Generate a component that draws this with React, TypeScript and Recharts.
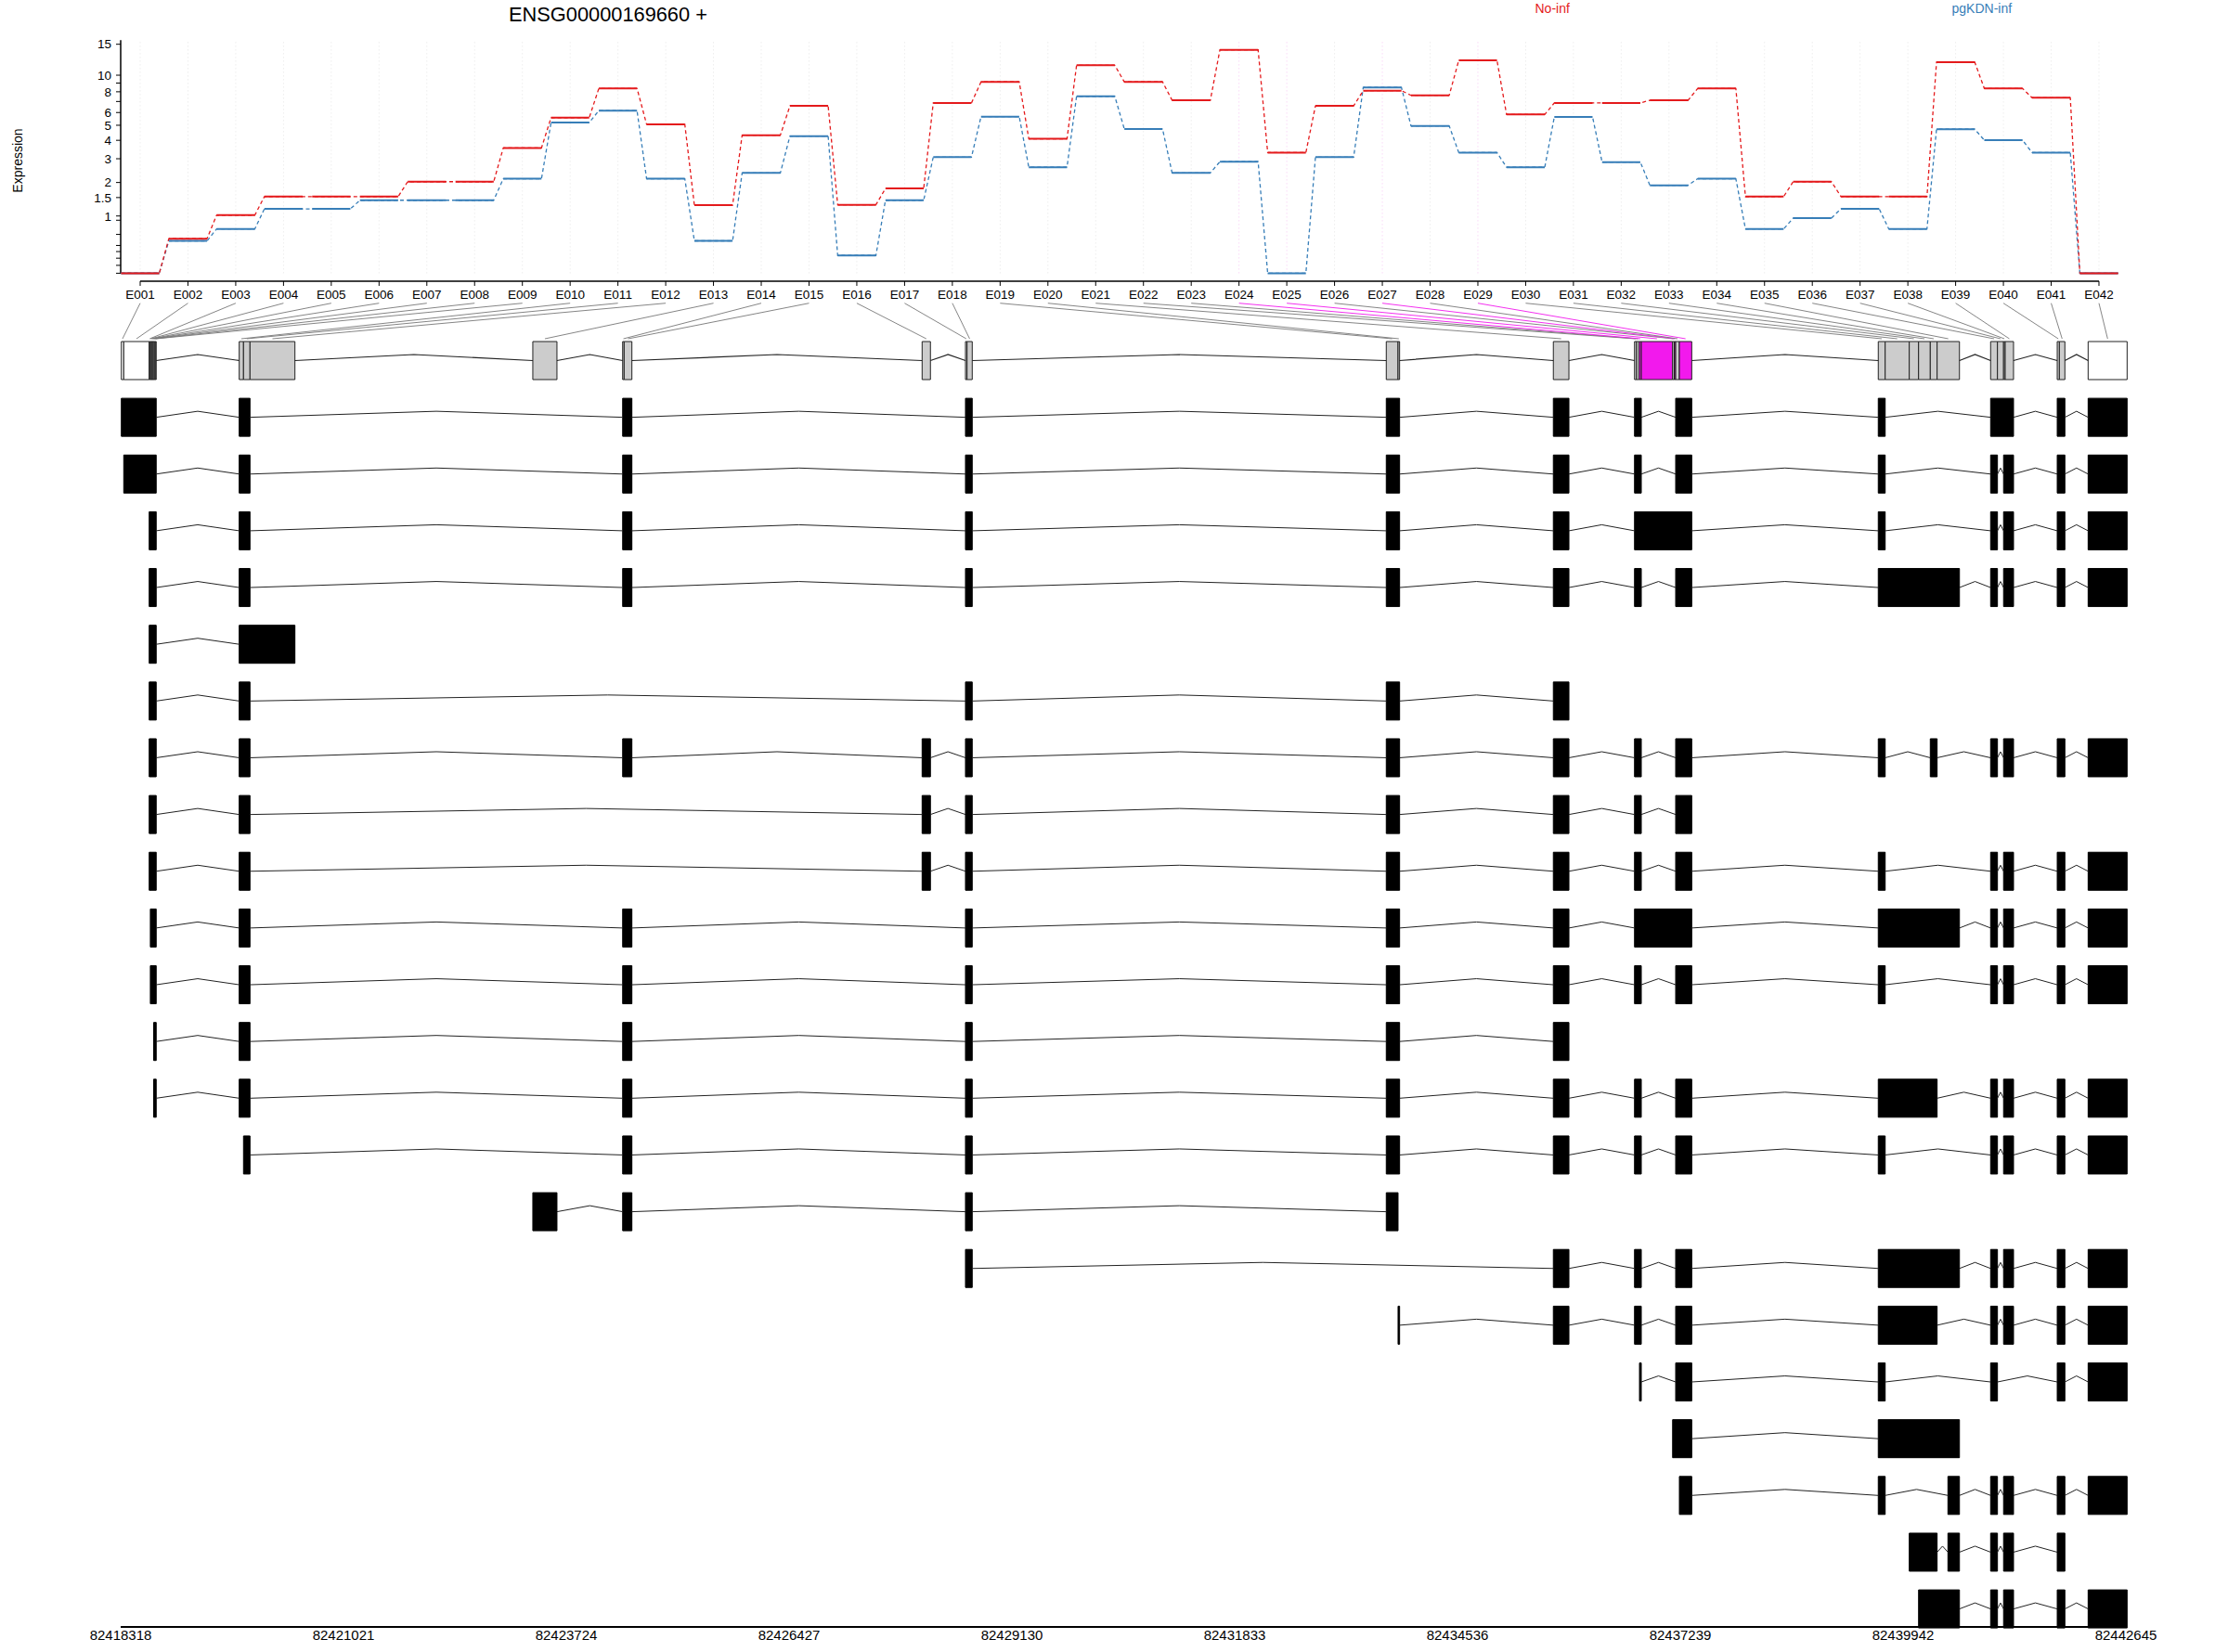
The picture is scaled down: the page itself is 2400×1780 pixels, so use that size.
import React from 'react';
import {
  LineChart,
  ComposedChart,
  Line,
  XAxis,
  YAxis,
  ReferenceLine,
  ReferenceArea,
  Customized,
} from 'recharts';

const FONT = '"Liberation Sans", Arial, Helvetica, sans-serif';

// ---------------- DATA ----------------
const exonIds = [
  'E001', 'E002', 'E003', 'E004', 'E005', 'E006', 'E007', 'E008', 'E009', 'E010',
  'E011', 'E012', 'E013', 'E014', 'E015', 'E016', 'E017', 'E018', 'E019', 'E020',
  'E021', 'E022', 'E023', 'E024', 'E025', 'E026', 'E027', 'E028', 'E029', 'E030',
  'E031', 'E032', 'E033', 'E034', 'E035', 'E036', 'E037', 'E038', 'E039', 'E040',
  'E041', 'E042',
];

const noInf = [
  0, 0.52, 1.02, 1.53, 1.53, 1.53, 2.03, 2.03, 3.56, 5.58,
  8.37, 5.07, 1.28, 4.32, 6.59, 1.29, 1.79, 6.86, 9.14, 4.09,
  11.4, 9.14, 7.12, 13.96, 3.31, 6.59, 8.12, 7.62, 12.17, 5.84,
  6.86, 6.86, 7.12, 8.37, 1.53, 2.03, 1.53, 1.53, 11.88, 8.37,
  7.37, 0,
];

const pgKDN = [
  0, 0.48, 0.71, 1.18, 1.18, 1.42, 1.42, 1.42, 2.14, 5.2,
  6.16, 2.14, 0.48, 2.37, 4.26, 0.24, 1.42, 3.08, 5.66, 2.61,
  7.52, 4.73, 2.37, 2.86, 0, 3.08, 8.48, 4.95, 3.31, 2.61,
  5.64, 2.84, 1.9, 2.14, 0.71, 0.95, 1.18, 0.71, 4.72, 4.01,
  3.31, 0,
];

const yTickValues = [0, 0.1, 0.2, 0.3, 0.4, 0.6, 0.9, 1, 1.5, 2, 3, 4, 5, 6, 7, 8, 9, 10, 15];
const yTickLabels = ['', '', '', '', '', '', '', '1', '1.5', '2', '3', '4', '5', '6', '', '8', '', '10', '15'];

// gene model exonic parts (genomic start / end)
const exonStart = [
  82418326, 82418355, 82418664, 82418676, 82418689, 82418701, 82418713, 82418726, 82418738, 82419756,
  82419808, 82419887, 82423318, 82424408, 82424426, 82428041, 82428567, 82428586, 82433672, 82433815,
  82435699, 82436684, 82436710, 82436740, 82436766, 82437146, 82437166, 82437183, 82437228, 82439641,
  82439725, 82440017, 82440130, 82440272, 82440355, 82441004, 82441087, 82441161, 82441181, 82441812,
  82441838, 82442187,
];
const exonEnd = [
  82418355, 82418664, 82418676, 82418689, 82418701, 82418713, 82418726, 82418738, 82418749, 82419808,
  82419887, 82420432, 82423611, 82424426, 82424520, 82428142, 82428586, 82428649, 82433815, 82433834,
  82435888, 82436710, 82436740, 82436766, 82437146, 82437166, 82437183, 82437228, 82437378, 82439725,
  82440017, 82440130, 82440272, 82440355, 82440626, 82441087, 82441161, 82441181, 82441282, 82441838,
  82441905, 82442660,
];
// 0 = not tested (white), 1 = tested (grey), 2 = significant (magenta)
const exonStatus = [
  0, 0, 1, 1, 1, 1, 1, 1, 1, 1,
  1, 1, 1, 1, 1, 1, 1, 1, 1, 1,
  1, 1, 1, 2, 2, 1, 2, 1, 2, 1,
  1, 1, 1, 1, 1, 1, 1, 1, 1, 1,
  1, 0,
];

// transcript exon pieces (genomic start / end)
const A1 = [82418326, 82418749];
const A2 = [82418355, 82418749];
const A3 = [82418664, 82418749];
const A10 = [82418678, 82418749];
const A12 = [82418718, 82418749];
const B12 = [82419756, 82419887];
const Bfull = [82419756, 82420432];
const B2 = [82419808, 82419887];
const Cx = [82423318, 82423611];
const Dx = [82424408, 82424520];
const Ex = [82428041, 82428142];
const Fx = [82428567, 82428649];
const Gx = [82433672, 82433834];
const G1 = [82433672, 82433815];
const G2 = [82433815, 82433834];
const Hx = [82435699, 82435888];
const I12 = [82436684, 82436766];
const Iall = [82436684, 82437378];
const I67 = [82437183, 82437378];
const I7 = [82437228, 82437378];
const I19 = [82437146, 82437378];
const I18 = [82436744, 82436766];
const J1 = [82439641, 82439725];
const Jall = [82439641, 82440626];
const J15 = [82439641, 82440355];
const J5 = [82440272, 82440355];
const J35 = [82440017, 82440355];
const J47 = [82440130, 82440626];
const J7 = [82440486, 82440626];
const K1 = [82441004, 82441087];
const K34 = [82441161, 82441282];
const Kall = [82441004, 82441282];
const Lx = [82441812, 82441905];
const Mx = [82442187, 82442660];

const transcripts = [
  [A1, B12, Dx, Fx, Gx, Hx, I12, I67, J1, Kall, Lx, Mx],
  [A2, B12, Dx, Fx, Gx, Hx, I12, I67, J1, K1, K34, Lx, Mx],
  [A3, B12, Dx, Fx, Gx, Hx, Iall, J1, K1, K34, Lx, Mx],
  [A3, B12, Dx, Fx, Gx, Hx, I12, I67, Jall, K1, K34, Lx, Mx],
  [A3, Bfull],
  [A3, B12, Fx, Gx, Hx],
  [A3, B12, Dx, Ex, Fx, Gx, Hx, I12, I67, J1, J5, K1, K34, Lx, Mx],
  [A3, B12, Ex, Fx, Gx, Hx, I12, I67],
  [A3, B12, Ex, Fx, Gx, Hx, I12, I67, J1, K1, K34, Lx, Mx],
  [A10, B12, Dx, Fx, Gx, Hx, Iall, Jall, K1, K34, Lx, Mx],
  [A10, B12, Dx, Fx, Gx, Hx, I12, I67, J1, K1, K34, Lx, Mx],
  [A12, B12, Dx, Fx, Gx, Hx],
  [A12, B12, Dx, Fx, Gx, Hx, I12, I67, J15, K1, K34, Lx, Mx],
  [B2, Dx, Fx, Gx, Hx, I12, I67, J1, K1, K34, Lx, Mx],
  [Cx, Dx, Fx, G1],
  [Fx, Hx, I12, I67, Jall, K1, K34, Lx, Mx],
  [G2, Hx, I12, I67, J15, K1, K34, Lx, Mx],
  [I18, I67, J1, K1, Lx, Mx],
  [I19, Jall],
  [I7, J1, J7, K1, K34, Lx, Mx],
  [J35, J7, K1, K34, Lx],
  [J47, K1, K34, Lx, Mx],
];

const genomicTicks = [
  82418318, 82421021, 82423724, 82426427, 82429130,
  82431833, 82434536, 82437239, 82439942, 82442645,
];

// ---------------- LAYOUT ----------------
const W = 2400;
const H = 1780;
const PLOT_L = 130;
const PLOT_R = 2290;
const RED = '#E41A1C';
const BLUE = '#377EB8';
const SIG = '#F219ED';
const GREY = '#CCCCCC';

// top chart
const A_H = 340;
const A_TOP = 42;
const A_BOTTOM = 303;
const X_MIN = 1 - 21 / 51.46;
const X_MAX = 42 + 29 / 51.46;
const PX_PER_T = 204.9;
const Y_ZERO_PX = 294.4;
const T_MIN = -(A_BOTTOM - Y_ZERO_PX) / PX_PER_T;
const T_MAX = (Y_ZERO_PX - A_TOP) / PX_PER_T;
const tr = (v: number) => Math.log10(v + 1);
const T_AXIS_TOP = tr(15.8);

// gene chart
const B_TOP = 320;
const B_BOTTOM = 1753;
const ROW0 = 388.5;
const ROW_H = 61.14;
const R_MIN = (B_TOP - ROW0) / ROW_H;
const R_MAX = (B_BOTTOM - ROW0) / ROW_H;
const BOX_HALF = 20.5 / ROW_H;
const PEAK = 6.5 / ROW_H;
const CONN_TOP = (326.7 - ROW0) / ROW_H;
const CONN_BOT = (365 - ROW0) / ROW_H;
const G0 = genomicTicks[0];
const G1END = genomicTicks[genomicTicks.length - 1];
const gOfIndex = (i: number) => G0 + ((i - X_MIN) / (X_MAX - X_MIN)) * (G1END - G0);

// ---------------- DERIVED TABLES ----------------
const dashed = (vals: number[]) =>
  vals.flatMap((v, k) => [
    { x: k + 1 - 0.4, v: tr(v) },
    { x: k + 1 + 0.4, v: tr(v) },
  ]);
const solid = (vals: number[]) =>
  vals.flatMap((v, k) => [
    { x: k + 1 - 0.4, v: tr(v) },
    { x: k + 1 + 0.4, v: tr(v) },
    { x: k + 1 + 0.5, v: null },
  ]);

const intronPoints = (exons: number[][], row: number) => {
  const pts: { g: number; r: number | null }[] = [];
  for (let k = 0; k < exons.length - 1; k++) {
    const a = exons[k][1];
    const b = exons[k + 1][0];
    if (b <= a) continue;
    pts.push({ g: a, r: row }, { g: (a + b) / 2, r: row - PEAK }, { g: b, r: row }, { g: b, r: null });
  }
  return pts;
};

const geneExons = exonStart.map((s, k) => [s, exonEnd[k]]);

const tickFmtY = (val: number) => {
  const k = yTickValues.findIndex((t) => Math.abs(tr(t) - val) < 1e-6);
  return k >= 0 ? yTickLabels[k] : '';
};

const TopTexts = () => (
  <g style={{ fontFamily: FONT }}>
    <text x={548} y={22.7} fontSize={21.8} fill="#000">
      ENSG00000169660 +
    </text>
    <text x={1653.5} y={13.5} fontSize={14} fill={RED}>
      No-inf
    </text>
    <text x={2102.5} y={13.5} fontSize={14} fill={BLUE}>
      pgKDN-inf
    </text>
    <text x={24} y={173} fontSize={14} fill="#000" textAnchor="middle" transform="rotate(-90 24 173)">
      Expression
    </text>
  </g>
);

export default function App() {
  const tickStyle = { fontSize: 13.5, fill: '#000', fontFamily: FONT };
  const gTickStyle = { fontSize: 15, fill: '#000', fontFamily: FONT };
  return (
    <div style={{ position: 'absolute', left: 0, top: 0, width: W, height: H, background: '#fff', fontFamily: FONT }}>
      {/* Gene model + transcripts */}
      <div style={{ position: 'absolute', left: 0, top: 0 }}>
        <ComposedChart width={W} height={H} margin={{ top: B_TOP, right: W - PLOT_R, bottom: 0, left: PLOT_L }}>
          <XAxis
            type="number"
            dataKey="g"
            domain={[G0, G1END]}
            allowDataOverflow
            ticks={genomicTicks}
            interval={0}
            tickLine={false}
            tickSize={1}
            tickMargin={2}
            height={H - B_BOTTOM}
            axisLine={{ stroke: '#000', strokeWidth: 2 }}
            tick={gTickStyle}
            tickFormatter={(v: number) => String(v)}
          />
          <YAxis type="number" hide reversed domain={[R_MIN, R_MAX]} allowDataOverflow />
          {exonIds.map((id, k) => (
            <ReferenceLine
              key={'c' + id}
              segment={[
                { x: gOfIndex(k + 1), y: CONN_TOP },
                { x: (exonStart[k] + exonEnd[k]) / 2, y: CONN_BOT },
              ]}
              stroke={exonStatus[k] === 2 ? SIG : '#777'}
              strokeWidth={0.9}
              ifOverflow="visible"
            />
          ))}
          <Line
            data={intronPoints(geneExons, 0)}
            dataKey="r"
            stroke="#222"
            strokeWidth={1.2}
            dot={false}
            activeDot={false}
            connectNulls={false}
            isAnimationActive={false}
          />
          {transcripts.map((tx, t) => (
            <Line
              key={'l' + t}
              data={intronPoints(tx, t + 1)}
              dataKey="r"
              stroke="#222"
              strokeWidth={1}
              dot={false}
              activeDot={false}
              connectNulls={false}
              isAnimationActive={false}
            />
          ))}
          {exonIds.map((id, k) => (
            <ReferenceArea
              key={'g' + id}
              x1={exonStart[k]}
              x2={exonEnd[k]}
              y1={-BOX_HALF}
              y2={BOX_HALF}
              fill={exonStatus[k] === 0 ? '#FFFFFF' : exonStatus[k] === 2 ? SIG : GREY}
              fillOpacity={1}
              stroke="#222"
              strokeWidth={1}
              ifOverflow="visible"
            />
          ))}
          {transcripts.flatMap((tx, t) =>
            tx.map((ex, j) => (
              <ReferenceArea
                key={'t' + t + '_' + j}
                x1={ex[0]}
                x2={ex[1]}
                y1={t + 1 - BOX_HALF}
                y2={t + 1 + BOX_HALF}
                fill="#000"
                fillOpacity={1}
                stroke="#000"
                strokeWidth={1}
                ifOverflow="visible"
              />
            ))
          )}
        </ComposedChart>
      </div>

      {/* Expression plot */}
      <div style={{ position: 'absolute', left: 0, top: 0 }}>
        <LineChart width={W} height={A_H} margin={{ top: A_TOP, right: W - PLOT_R, bottom: 0, left: 0 }}>
          <XAxis
            type="number"
            dataKey="x"
            domain={[X_MIN, X_MAX]}
            allowDataOverflow
            ticks={exonIds.map((_, k) => k + 1)}
            interval={0}
            tickFormatter={(v: number) => exonIds[Math.round(v) - 1] || ''}
            axisLine={false}
            tickLine={{ stroke: '#000' }}
            tickSize={5}
            tickMargin={4}
            height={A_H - A_BOTTOM}
            tick={tickStyle}
          />
          <YAxis
            type="number"
            domain={[T_MIN, T_MAX]}
            allowDataOverflow
            ticks={yTickValues.map(tr)}
            interval={0}
            tickFormatter={tickFmtY}
            axisLine={false}
            tickLine={{ stroke: '#000' }}
            tickSize={5}
            tickMargin={5}
            width={PLOT_L}
            tick={tickStyle}
          />
          {exonIds.map((id, k) => (
            <ReferenceLine
              key={'v' + id}
              segment={[
                { x: k + 1, y: 0 },
                { x: k + 1, y: T_AXIS_TOP },
              ]}
              stroke={exonStatus[k] === 2 ? '#f6c6f3' : '#e4e4e4'}
              strokeDasharray="1 3"
              strokeWidth={1}
            />
          ))}
          <ReferenceLine
            segment={[
              { x: X_MIN, y: 0 },
              { x: X_MIN, y: T_AXIS_TOP },
            ]}
            stroke="#000"
            strokeWidth={1.5}
            ifOverflow="visible"
          />
          <ReferenceLine
            segment={[
              { x: 1, y: T_MIN },
              { x: 42, y: T_MIN },
            ]}
            stroke="#000"
            strokeWidth={1.5}
            ifOverflow="visible"
          />
          <Line data={dashed(pgKDN)} dataKey="v" stroke={BLUE} strokeWidth={1.3} strokeDasharray="4 3" dot={false} activeDot={false} isAnimationActive={false} />
          <Line data={dashed(noInf)} dataKey="v" stroke={RED} strokeWidth={1.3} strokeDasharray="4 3" dot={false} activeDot={false} isAnimationActive={false} />
          <Line data={solid(pgKDN)} dataKey="v" stroke={BLUE} strokeWidth={2} dot={false} activeDot={false} connectNulls={false} isAnimationActive={false} />
          <Line data={solid(noInf)} dataKey="v" stroke={RED} strokeWidth={2} dot={false} activeDot={false} connectNulls={false} isAnimationActive={false} />
          <Customized component={TopTexts} />
        </LineChart>
      </div>
    </div>
  );
}
